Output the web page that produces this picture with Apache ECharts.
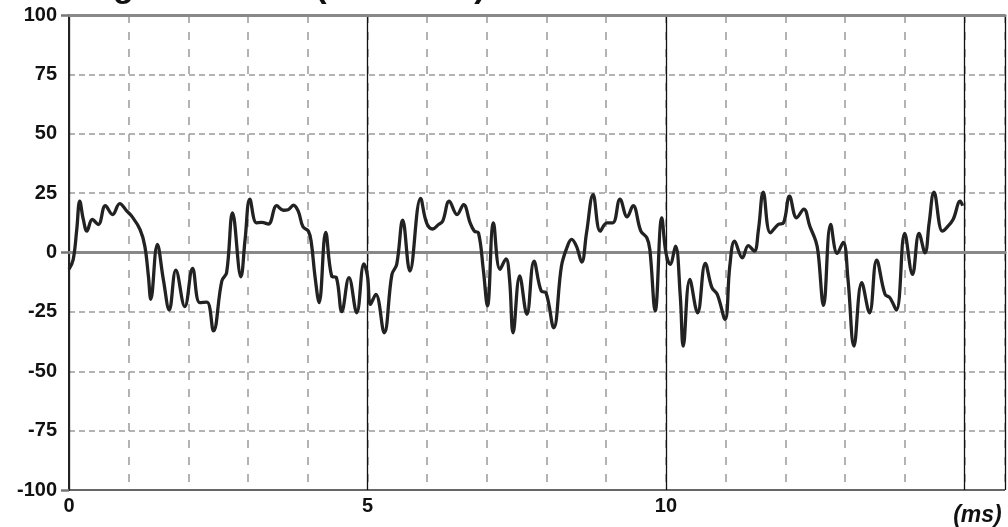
<!DOCTYPE html>
<html>
<head>
<meta charset="utf-8">
<script src="https://cdn.jsdelivr.net/npm/echarts@6/dist/echarts.min.js"></script>
<style>
html,body{margin:0;padding:0;background:#fff;}
#chart{width:1008px;height:527px;}
</style>
</head>
<body>
<div id="chart"></div>
<script>
var times = [0,0.07,0.13,0.18,0.24,0.30,0.39,0.49,0.61,0.73,0.85,0.97,1.05,1.19,1.27,1.33,1.37,1.48,1.58,1.68,1.79,1.94,2.07,2.19,2.31,2.42,2.56,2.64,2.74,2.88,2.95,3.03,3.14,3.23,3.34,3.48,3.59,3.67,3.76,3.84,3.92,4.01,4.06,4.12,4.19,4.30,4.40,4.48,4.57,4.69,4.82,4.94,5.00,5.05,5.14,5.28,5.41,5.49,5.59,5.71,5.89,5.99,6.09,6.19,6.26,6.37,6.50,6.61,6.72,6.79,6.86,6.94,7.01,7.11,7.22,7.32,7.38,7.44,7.55,7.67,7.79,7.91,7.99,8.12,8.25,8.34,8.42,8.50,8.59,8.67,8.78,8.90,9.01,9.11,9.23,9.35,9.45,9.58,9.68,9.73,9.82,9.93,10.00,10.07,10.16,10.24,10.29,10.40,10.53,10.66,10.77,10.86,10.99,11.07,11.15,11.28,11.38,11.48,11.55,11.63,11.75,11.88,11.97,12.07,12.19,12.31,12.41,12.51,12.55,12.64,12.76,12.87,12.97,13.05,13.15,13.28,13.41,13.53,13.67,13.75,13.86,14.00,14.13,14.24,14.34,14.41,14.49,14.63,14.70,14.81,14.93,14.97];
var signal = [-7,-3,9.7,21.6,13.9,9,13.9,11.8,19.7,16,20.6,17.4,15.3,9.7,2.7,-9.9,-19.7,3.4,-11.3,-24.2,-7.4,-22.8,-6.7,-21.1,-20.9,-33,-12,-8.5,16.7,-10.2,5.5,22.5,12.5,12.7,12,19.7,17.8,18,19.9,17.4,10.8,9,4,-9.9,-21.1,8.5,-9.9,-10.6,-24.9,-10.6,-25.4,-4.8,-9.9,-21.8,-17.6,-33.8,-9.2,-5,13.6,-7.8,22.8,12.5,9.9,11.8,13.2,21.6,16,20.2,12.5,9,8.3,-7.1,-22.5,12.5,-7.1,-2.7,-11.3,-33.8,-9.9,-26,-3.6,-16.2,-16.9,-31.7,-5.7,2,5.5,2.7,-4,8.3,24.4,9,12.5,12.5,22.5,15,19.7,9,6.2,1.3,-24.6,14.6,-0.1,-5,2.7,-18.3,-39.4,-11.3,-25.4,-4.6,-14.8,-17.6,-28.2,-5.7,4.8,-2.2,2.9,0.6,9.7,25.4,8.3,11.8,12.5,23.7,14.6,18.3,11.1,4.8,-0.1,-22.3,11.8,-0.4,4.3,-11.3,-39.4,-12.7,-25.4,-3.2,-17.6,-19,-24.2,8,-9.2,8,-0.1,12.5,25.4,9,10.4,13.9,21.6,19.7];
var xTickLabels = {0:'0',5:'5',10:'10',15:'(ms)'};
var yTickLabels = ['-100','-75','-50','-25','0','25','50','75','100'];

var points = times.map(function(t,i){return [t, signal[i]];});
var XMAX = 15.68;
var chart = echarts.init(document.getElementById('chart'));
var font = 'Liberation Sans, Arial, sans-serif';
chart.setOption({
  animation:false,
  title:{
    left:76, top:-34,
    text:'{b|Signal sonore (}{s|tension en mV}{b|)}',
    textStyle:{
      rich:{
        b:{fontFamily:font,fontWeight:'bold',fontSize:34,color:'#111'},
        s:{fontFamily:font,fontSize:14,color:'#111',verticalAlign:'top',padding:[0,26,0,26]}
      }
    }
  },
  grid:{left:69,right:0,top:15,bottom:36,containLabel:false},
  xAxis:[
    {type:'value',min:0,max:XMAX,interval:1,position:'bottom',
     axisLine:{show:false},axisTick:{show:false},axisLabel:{show:false},
     splitLine:{show:true,lineStyle:{color:'#9a9a9a',width:1.5,type:[8,9]}}},
    {type:'value',min:0,max:XMAX,interval:5,position:'bottom',
     axisLine:{show:true,lineStyle:{color:'#888',width:3}},axisTick:{show:false},
     axisLabel:{show:true,margin:6,color:'#111',fontFamily:font,fontWeight:'bold',fontSize:20,
       formatter:function(v){var s=xTickLabels[v]; if(s==='(ms)') return '{u|(ms)}'; return s===undefined?'':s;},
       rich:{u:{fontFamily:font,fontWeight:'bold',fontStyle:'italic',fontSize:23,color:'#111',padding:[8,0,0,26]}}},
     splitLine:{show:true,lineStyle:{color:'#111',width:1.3}}},
    {type:'value',min:0,max:XMAX,position:'top',
     axisLine:{show:true,lineStyle:{color:'#888',width:3}},axisTick:{show:false},axisLabel:{show:false},splitLine:{show:false}}
  ],
  yAxis:[
    {type:'value',min:-100,max:100,interval:25,position:'left',
     axisLine:{show:true,onZero:false,lineStyle:{color:'#222',width:2}},axisTick:{show:false},
     axisLabel:{show:true,margin:12,color:'#111',fontFamily:font,fontWeight:'bold',fontSize:20,
       formatter:function(v){var i=Math.round((v+100)/25);return yTickLabels[i];}},
     splitLine:{show:true,lineStyle:{color:'#9a9a9a',width:1.5,type:[6,4]}}},
    {type:'value',min:-100,max:100,interval:100,position:'left',
     axisLine:{show:false},axisTick:{show:true,length:8,lineStyle:{color:'#777',width:2.5}},axisLabel:{show:false},
     splitLine:{show:true,lineStyle:{color:'#666',width:2}}}
  ],
  series:[{
    type:'line',xAxisIndex:0,yAxisIndex:0,data:points,smooth:0.4,showSymbol:false,
    lineStyle:{color:'#222',width:3.3},z:5
  }]
});
</script>
</body>
</html>
